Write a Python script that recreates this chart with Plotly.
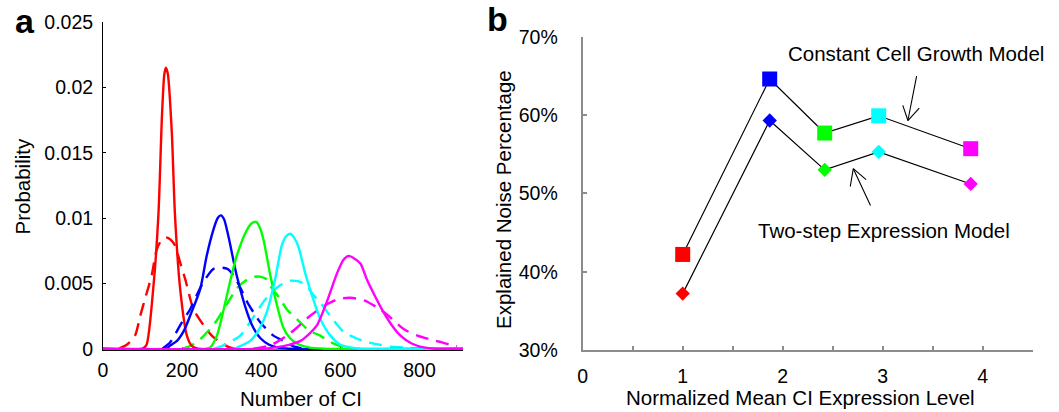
import plotly.graph_objects as go

# ---------------- Panel a: distributions of CI number ----------------
red_solid_x = [0, 100, 110, 127, 140, 149, 155, 159, 164, 174, 182, 195, 212, 225, 240, 910]
red_solid_y = [0, 0, 0.0003, 0.0046, 0.0102, 0.0178, 0.0210, 0.0215, 0.0210, 0.0165, 0.0102, 0.0046, 0.0010, 0.0002, 0, 0]
red_dash_x = [40, 60, 81, 94, 108, 123, 136, 150, 162, 172, 182, 195, 208, 229, 254, 275, 296, 320, 340]
red_dash_y = [0, 0.0003, 0.0010, 0.0025, 0.0040, 0.0056, 0.0076, 0.0084, 0.0085, 0.0083, 0.0079, 0.0066, 0.0053, 0.0030, 0.0018, 0.0010, 0.0005, 0.0001, 0]

blue_solid_x = [0, 160, 170, 187, 205, 220, 246, 262, 279, 290, 298, 306, 317, 338, 364, 380, 398, 420, 440, 470, 910]
blue_solid_y = [0, 0, 0.00025, 0.0006, 0.0014, 0.0025, 0.0046, 0.0071, 0.0091, 0.0100, 0.0102, 0.0099, 0.0086, 0.0056, 0.0028, 0.0016, 0.0008, 0.0003, 0.0001, 0, 0]
blue_dash_x = [150, 170, 199, 220, 237, 254, 279, 300, 315, 330, 345, 364, 380, 398, 431, 456, 480, 510]
blue_dash_y = [0, 0.0005, 0.0020, 0.0030, 0.0041, 0.0051, 0.0061, 0.0062, 0.0061, 0.0056, 0.0048, 0.0036, 0.0028, 0.0020, 0.0010, 0.0006, 0.0002, 0]

green_solid_x = [0, 260, 271, 288, 305, 321, 338, 364, 376, 387, 396, 406, 423, 440, 456, 473, 490, 520, 560, 910]
green_solid_y = [0, 0, 0.0001, 0.0010, 0.0030, 0.0051, 0.0071, 0.0091, 0.0096, 0.0097, 0.0093, 0.0083, 0.0056, 0.0033, 0.0016, 0.0008, 0.0004, 0.0001, 0, 0]
green_dash_x = [200, 220, 245, 270, 284, 305, 338, 360, 381, 400, 414, 423, 448, 465, 499, 520, 549, 575, 600, 630]
green_dash_y = [0, 0.0002, 0.0007, 0.0015, 0.0020, 0.0030, 0.0046, 0.0052, 0.0055, 0.0055, 0.0053, 0.0048, 0.0038, 0.0030, 0.0020, 0.0014, 0.0010, 0.0005, 0.0002, 0]

cyan_solid_x = [0, 330, 347, 372, 389, 414, 435, 452, 463, 473, 483, 494, 511, 528, 549, 575, 600, 625, 650, 910]
cyan_solid_y = [0, 0, 0.0002, 0.0006, 0.0012, 0.0028, 0.0053, 0.0079, 0.0086, 0.0088, 0.0085, 0.0078, 0.0058, 0.0041, 0.0023, 0.0010, 0.0003, 0.0001, 0, 0]
cyan_dash_x = [280, 300, 320, 347, 380, 406, 423, 445, 473, 500, 520, 532, 550, 567, 590, 608, 640, 668, 700, 727, 760, 800]
cyan_dash_y = [0, 0.0002, 0.0005, 0.0010, 0.0024, 0.0036, 0.0042, 0.0048, 0.0052, 0.0051, 0.0046, 0.0041, 0.0035, 0.0028, 0.0019, 0.0013, 0.0008, 0.0005, 0.0003, 0.00015, 0.0001, 0]

magenta_solid_x = [0, 400, 456, 499, 520, 541, 566, 592, 608, 621, 635, 651, 667, 688, 709, 730, 752, 780, 811, 840, 910]
magenta_solid_y = [0, 0, 0.0002, 0.0006, 0.0011, 0.0018, 0.0036, 0.0058, 0.0068, 0.0071, 0.0069, 0.0065, 0.0053, 0.0040, 0.0028, 0.0018, 0.0010, 0.0004, 0.0001, 0, 0]
magenta_dash_x = [380, 423, 465, 490, 515, 541, 566, 595, 625, 660, 701, 730, 760, 795, 828, 855, 878, 895]
magenta_dash_y = [0, 0.00025, 0.0010, 0.0016, 0.0023, 0.0029, 0.0034, 0.0038, 0.0039, 0.0037, 0.0030, 0.0023, 0.0015, 0.0010, 0.0007, 0.0005, 0.0003, 0.0002]

a_xticks = [0, 200, 400, 600, 800]
a_yticks = [0, 0.005, 0.01, 0.015, 0.02, 0.025]
a_yticktext = ["0", "0.005", "0.01", "0.015", "0.02", "0.025"]

# ---------------- Panel b: explained noise ----------------
levels = [1.0, 1.87, 2.42, 2.96, 3.88]
constant_growth = [42.2, 64.6, 57.7, 59.9, 55.7]
two_step = [37.2, 59.3, 53.0, 55.3, 51.2]
point_colors = ["#ff0000", "#0000ff", "#00ff00", "#00ffff", "#ff00ff"]
b_xticks = [0, 1, 2, 3, 4]
b_yticks = [30, 40, 50, 60, 70]
b_yticktext = ["30%", "40%", "50%", "60%", "70%"]

FONT = "Liberation Sans, Arial, sans-serif"
W, H = 1059, 412

fig = go.Figure()

dashed = [(red_dash_x, red_dash_y, "#ff0000"), (blue_dash_x, blue_dash_y, "#0000ff"),
          (green_dash_x, green_dash_y, "#00ff00"), (cyan_dash_x, cyan_dash_y, "#00ffff"),
          (magenta_dash_x, magenta_dash_y, "#ff00ff")]
solid = [(red_solid_x, red_solid_y, "#ff0000"), (blue_solid_x, blue_solid_y, "#0000ff"),
         (green_solid_x, green_solid_y, "#00ff00"), (cyan_solid_x, cyan_solid_y, "#00ffff"),
         (magenta_solid_x, magenta_solid_y, "#ff00ff")]
for xs, ys, c in dashed:
    fig.add_trace(go.Scatter(x=xs, y=ys, mode="lines", xaxis="x", yaxis="y",
                             line=dict(color=c, width=2.4, dash="13px,8px", shape="spline", smoothing=0.7),
                             showlegend=False, hoverinfo="skip"))
for xs, ys, c in solid:
    fig.add_trace(go.Scatter(x=xs, y=ys, mode="lines", xaxis="x", yaxis="y",
                             line=dict(color=c, width=2.4, shape="spline", smoothing=0.7),
                             showlegend=False, hoverinfo="skip"))

fig.add_trace(go.Scatter(x=levels, y=constant_growth, mode="lines+markers", xaxis="x2", yaxis="y2",
                         line=dict(color="black", width=1.2),
                         marker=dict(symbol="square", size=15, color=point_colors, line=dict(width=0)),
                         showlegend=False, cliponaxis=False))
fig.add_trace(go.Scatter(x=levels, y=two_step, mode="lines+markers", xaxis="x2", yaxis="y2",
                         line=dict(color="black", width=1.2),
                         marker=dict(symbol="diamond", size=11, color=point_colors, line=dict(width=0)),
                         showlegend=False, cliponaxis=False))

# axis boxes in page pixels
ax_a_x = [103 / W, 463 / W]
ax_b_x = [582.7 / W, 1032.7 / W]
ax_a_y = [(H - 350) / H, (H - 22) / H]
ax_b_y = [(H - 350) / H, (H - 36.7) / H]

tickfont = dict(family=FONT, size=19.5, color="black")
GRAY = "#8c8c8c"

fig.update_layout(
    template="none",
    width=W, height=H, margin=dict(l=0, r=0, t=0, b=0, pad=0, autoexpand=False),
    paper_bgcolor="white", plot_bgcolor="white",
    font=dict(family=FONT, size=19.5, color="black"),
    xaxis=dict(domain=ax_a_x, range=[0, 910], tickvals=a_xticks, showgrid=False, zeroline=False,
               showline=True, linecolor="black", linewidth=1, ticks="inside", ticklen=3,
               tickcolor="black", tickfont=tickfont, anchor="y", layer="below traces",
               automargin=False, ticklabelstandoff=3),
    yaxis=dict(domain=ax_a_y, range=[-0.0001, 0.025], tickvals=a_yticks, ticktext=a_yticktext,
               showgrid=False, zeroline=False, showline=True, linecolor="black", linewidth=1,
               ticks="inside", ticklen=3, tickcolor="black", tickfont=tickfont, anchor="x",
               layer="below traces", automargin=False, ticklabelstandoff=5),
    xaxis2=dict(domain=ax_b_x, range=[0, 4.5], tickvals=b_xticks, showgrid=False, zeroline=False,
                showline=True, linecolor=GRAY, linewidth=2, ticks="inside", ticklen=4,
                tickcolor=GRAY, tickwidth=1.5, tickfont=tickfont, anchor="y2", automargin=False,
                minor=dict(dtick=0.5, tick0=0, ticks="inside", ticklen=4, tickcolor=GRAY, tickwidth=1.5,
                           showgrid=False),
                ticklabelstandoff=8),
    yaxis2=dict(domain=ax_b_y, range=[30, 70], tickvals=b_yticks, ticktext=b_yticktext,
                showgrid=False, zeroline=False, showline=True, linecolor=GRAY, linewidth=2,
                ticks="inside", ticklen=4, tickcolor=GRAY, tickwidth=1.5, tickfont=tickfont,
                anchor="x2", automargin=False, ticklabelstandoff=19),
)

annotations = [
    dict(text="<b>a</b>", x=25 / W, y=(H - 21) / H, font=dict(size=34)),
    dict(text="<b>b</b>", x=497 / W, y=(H - 19) / H, font=dict(size=34)),
    dict(text="Probability", x=21.5 / W, y=(H - 187) / H, textangle=-90, font=dict(size=20.5)),
    dict(text="Number of CI", x=301 / W, y=(H - 398) / H, font=dict(size=20.5)),
    dict(text="Explained Noise Percentage", x=503 / W, y=(H - 200) / H, textangle=-90, font=dict(size=20.5)),
    dict(text="Normalized Mean CI Expression Level", x=800.5 / W, y=(H - 397) / H, font=dict(size=20.5)),
    dict(text="Constant Cell Growth Model", x=916 / W, y=(H - 53.3) / H, font=dict(size=20.5)),
    dict(text="Two-step Expression Model", x=883.7 / W, y=(H - 230.3) / H, font=dict(size=20.5)),
]
for a in annotations:
    fig.add_annotation(xref="paper", yref="paper", showarrow=False, xanchor="center", yanchor="middle", **a)

# arrows: shaft from label towards curve, plus two open-head strokes (pixel offsets from tip)
arrows = [
    dict(tip=(3.252, 59.30), tail=(3.342, 65.16), arms=[(12.7, -14.0), (-5.6, -16.7)]),
    dict(tip=(2.706, 53.15), tail=(2.885, 48.26), arms=[(-3.3, 19.3), (14.3, 12.3)]),
]
for ar in arrows:
    fig.add_annotation(xref="x2", yref="y2", axref="x2", ayref="y2", x=ar["tip"][0], y=ar["tip"][1],
                       ax=ar["tail"][0], ay=ar["tail"][1], text="", showarrow=True, arrowhead=0,
                       arrowwidth=1.1, arrowcolor="black", standoff=0, startstandoff=0)
    for dx, dy in ar["arms"]:
        fig.add_annotation(xref="x2", yref="y2", x=ar["tip"][0], y=ar["tip"][1], ax=dx, ay=dy,
                           text="", showarrow=True, arrowhead=0, arrowwidth=1.1, arrowcolor="black",
                           standoff=0, startstandoff=0)

fig.write_html("out.html", config={"displayModeBar": False},
               post_script="document.body.style.margin='0px';document.body.style.padding='0px';")
